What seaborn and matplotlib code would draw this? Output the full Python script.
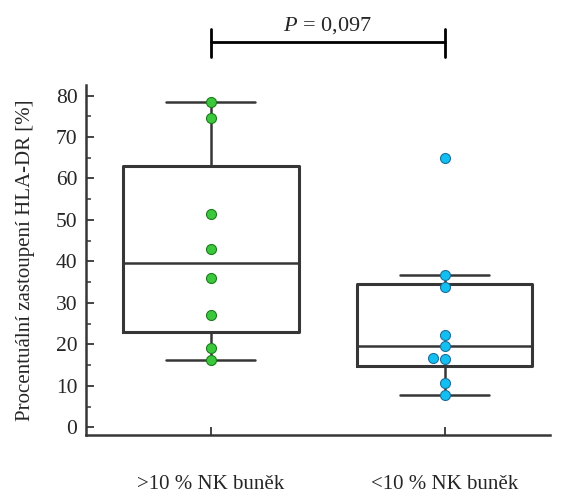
import matplotlib
matplotlib.use("Agg")
import matplotlib.pyplot as plt
import seaborn as sns

# Groups and measured HLA-DR percentages
group_labels = [">10 % NK buněk", "<10 % NK buněk"]
hla_high_nk = [78.5, 74.5, 51.5, 43.0, 36.0, 27.0, 19.0, 16.2]
hla_low_nk = [65.0, 36.8, 33.8, 22.3, 19.6, 16.4, 16.6, 10.6, 7.9]

# Box summary (hinges, median, whisker ends) per group
box_q1 = [22.9, 14.7]
box_median = [39.7, 19.6]
box_q3 = [63.0, 34.5]
whisker_low = [16.2, 7.9]
whisker_high = [78.5, 36.8]

p_value_text = r"$\mathit{P}$ = 0,097"
y_label = "Procentuální zastoupení HLA-DR [%]"

point_fill = ["#3cc83c", "#12bff0"]
point_edge = ["#1e7a1e", "#1f6f99"]
line_color = "#363636"

sns.set_style("ticks")
plt.rcParams["font.family"] = ["Liberation Serif", "DejaVu Serif"]
plt.rcParams["mathtext.fontset"] = "custom"
plt.rcParams["mathtext.rm"] = "Liberation Serif"
plt.rcParams["mathtext.it"] = "Liberation Serif:italic"

fig = plt.figure(figsize=(5.61, 4.98), dpi=100)
ax = fig.add_axes([0.153, 0.127, 0.827, 0.702])

# Individual observations
for vals, label, fc, ec in zip([hla_high_nk, hla_low_nk], group_labels, point_fill, point_edge):
    sns.swarmplot(x=[label] * len(vals), y=vals, order=group_labels, color=fc,
                  edgecolor=ec, linewidth=0.8, size=7.2, ax=ax, zorder=3)

# Boxes
stats = []
for i in range(len(group_labels)):
    stats.append({"q1": box_q1[i], "med": box_median[i], "q3": box_q3[i],
                  "whislo": whisker_low[i], "whishi": whisker_high[i], "fliers": []})
ax.bxp(stats, positions=[0, 1], widths=0.75, capwidths=0.38, showfliers=False,
       patch_artist=False, manage_ticks=False,
       boxprops=dict(color=line_color, linewidth=2.2, zorder=2),
       medianprops=dict(color=line_color, linewidth=1.8, zorder=2),
       whiskerprops=dict(color=line_color, linewidth=1.8, zorder=2),
       capprops=dict(color=line_color, linewidth=1.8, zorder=2))

ax.set_xlim(-0.534, 1.449)
ax.set_ylim(-1.8, 82.5)
ax.set_xticks([0, 1])
ax.set_xticklabels(group_labels, fontsize=15)
ax.set_yticks(range(0, 81, 10))
ax.set_yticks(range(5, 81, 10), minor=True)
ax.tick_params(axis="y", labelsize=15.5)
ax.tick_params(axis="both", which="major", direction="in", length=6, width=1.3,
               color=line_color)
ax.tick_params(axis="y", which="minor", direction="in", length=3.5, width=1.1,
               color=line_color, left=True)
ax.tick_params(axis="x", pad=29)
ax.tick_params(axis="y", pad=6)
ax.set_xlabel("")
ax.set_ylabel(y_label, fontsize=15, labelpad=15)

for side in ["top", "right"]:
    ax.spines[side].set_visible(False)
for side in ["left", "bottom"]:
    ax.spines[side].set_color(line_color)
    ax.spines[side].set_linewidth(1.8)

# Significance bracket above the groups
ax.plot([0, 1], [92.9, 92.9], color="black", linewidth=2, clip_on=False)
ax.plot([0, 0], [89.2, 96.0], color="black", linewidth=2, clip_on=False)
ax.plot([1, 1], [89.2, 96.0], color="black", linewidth=2, clip_on=False)
ax.text(0.5, 95.6, p_value_text, ha="center", va="baseline", fontsize=16, clip_on=False)

fig.savefig("out.png", dpi=100)
